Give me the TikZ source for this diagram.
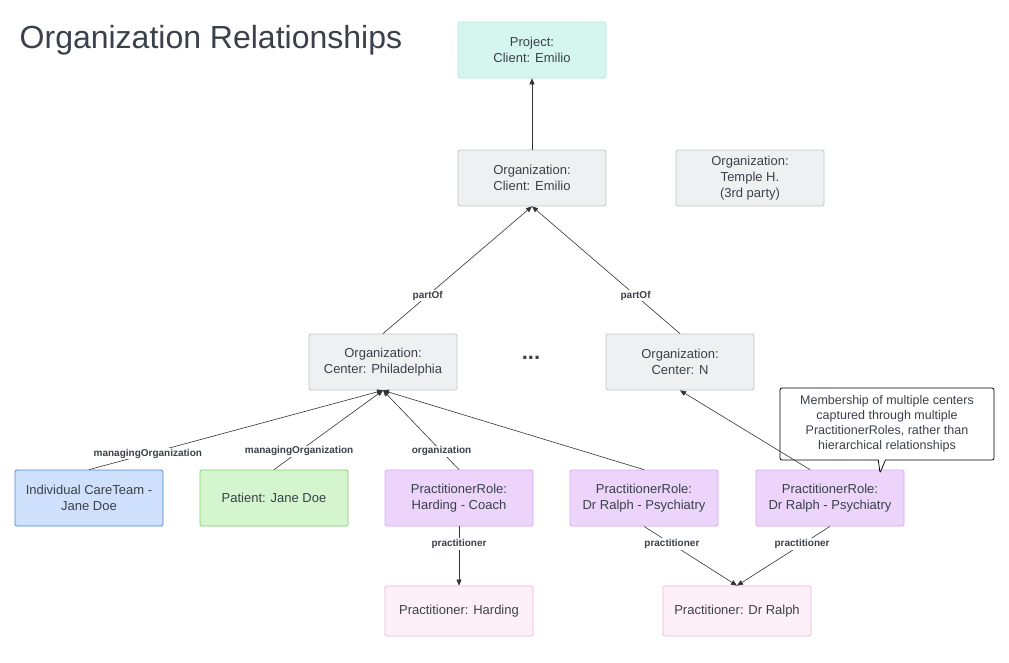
\documentclass[tikz,border=0pt]{standalone}
\usepackage{fontspec}
\setmainfont{Liberation Sans}
\usetikzlibrary{arrows.meta,shapes.callouts}

\definecolor{grayfill}{HTML}{EFF0F2}
\definecolor{grayline}{HTML}{C5C7CA}
\definecolor{tealfill}{HTML}{D5F5EF}
\definecolor{tealline}{HTML}{B6E9DF}
\definecolor{bluefill}{HTML}{CFE0FC}
\definecolor{blueline}{HTML}{4A89DC}
\definecolor{greenfill}{HTML}{D4F5CE}
\definecolor{greenline}{HTML}{7DD26D}
\definecolor{purplefill}{HTML}{ECD4FB}
\definecolor{purpleline}{HTML}{D9A8F5}
\definecolor{pinkfill}{HTML}{FDF0F8}
\definecolor{pinkline}{HTML}{F0B8DA}
\definecolor{textgray}{HTML}{3A414A}

\tikzset{every picture/.style={line width=0.75pt}}
\tikzset{
  box/.style={draw, rounded corners=1.5pt, minimum width=148pt, minimum height=56pt,
    align=center, text=textgray, font=\fontsize{13}{16}\selectfont, inner sep=2pt},
  orgbox/.style={box, fill=grayfill, draw=grayline},
  projbox/.style={box, fill=tealfill, draw=tealline},
  carebox/.style={box, fill=bluefill, draw=blueline},
  patbox/.style={box, fill=greenfill, draw=greenline},
  rolebox/.style={box, fill=purplefill, draw=purpleline},
  pracbox/.style={box, fill=pinkfill, draw=pinkline, minimum height=50pt},
  rel/.style={draw=black!80, line width=0.6pt, -{Triangle[length=6pt,width=5pt]}},
  lbl/.style={fill=white, inner sep=1pt, font=\fontsize{10}{12}\selectfont\bfseries, text=textgray},
}

\begin{document}
\begin{tikzpicture}[x=1pt,y=1pt,yscale=-1,xscale=1]
\useasboundingbox[fill=white] (0,0) rectangle (1009,662);

% Text Node
\node[anchor=west, text=textgray, font=\fontsize{32}{38}\selectfont] (title) at (16,40) {Organization Relationships};

%Shape: Rectangle
\node[projbox] (project) at (532,50) {Project:\\Client: Emilio};
\node[orgbox] (client) at (532,178) {Organization:\\Client: Emilio};
\node[orgbox] (temple) at (750,178) {Organization:\\Temple H.\\(3rd party)};
\node[orgbox] (phila) at (383,362) {Organization:\\Center: Philadelphia};
\node[orgbox] (centern) at (680,362) {Organization:\\Center: N};
\node[font=\fontsize{22}{22}\selectfont\bfseries, text=textgray] (dots) at (531,358) {...};

\node[carebox] (careteam) at (89,498) {Individual CareTeam -\\Jane Doe};
\node[patbox] (patient) at (274,498) {Patient: Jane Doe};
\node[rolebox] (roleharding) at (459,498) {PractitionerRole:\\Harding - Coach};
\node[rolebox] (roleralpha) at (644,498) {PractitionerRole:\\Dr Ralph - Psychiatry};
\node[rolebox] (roleralphb) at (830,498) {PractitionerRole:\\Dr Ralph - Psychiatry};

\node[pracbox] (pracharding) at (459,611) {Practitioner: Harding};
\node[pracbox] (pracralph) at (737,611) {Practitioner: Dr Ralph};

%Shape: Callout
\node[rectangle callout, draw=black, fill=white, rounded corners=2pt, minimum width=214pt,
  minimum height=72pt, align=center, text=textgray, font=\fontsize{12.5}{15}\selectfont,
  callout absolute pointer={(880,473)}] (note) at (887,424)
  {Membership of multiple centers\\captured through multiple\\PractitionerRoles, rather than\\hierarchical relationships};

%Straight Lines
\draw[rel] (client) -- (project);
\draw[rel] (phila.north) -- node[lbl, pos=0.3] {partOf} (client.south);
\draw[rel] (centern.north) -- node[lbl, pos=0.3] {partOf} (client.south);
\draw[rel] (careteam.north) -- node[lbl, pos=0.2] {managingOrganization} (phila.south);
\draw[rel] (patient.north) -- node[lbl, pos=0.23] {managingOrganization} (phila.south);
\draw[rel] (roleharding.north) -- node[lbl, pos=0.23] {organization} (phila.south);
\draw[rel] (roleralpha.north) -- (phila.south);
\draw[rel] ([xshift=-20pt]roleralphb.north) -- (centern.south);
\draw[rel] (roleharding.south) -- node[lbl, pos=0.3] {practitioner} (pracharding.north);
\draw[rel] (roleralpha.south) -- node[lbl, pos=0.3] {practitioner} (pracralph.north);
\draw[rel] (roleralphb.south) -- node[lbl, pos=0.3] {practitioner} (pracralph.north);

\end{tikzpicture}
\end{document}
